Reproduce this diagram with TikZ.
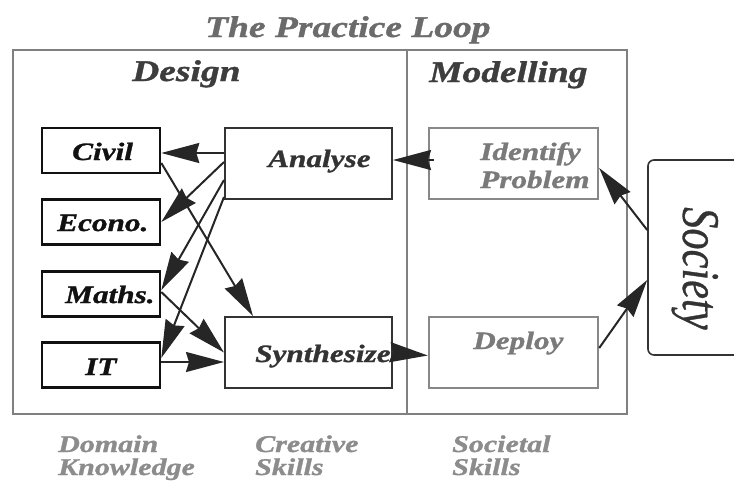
\documentclass[tikz,border=0pt]{standalone}
\usepackage{fontspec}
\setmainfont{Liberation Serif}[FakeStretch=1.25, BoldItalicFeatures={FakeBold=1.2}]
\newfontfamily\socfont{Liberation Serif}[FakeStretch=0.8, ItalicFeatures={FakeBold=0.6}]
\usetikzlibrary{arrows.meta,calc}
\definecolor{titlec}{HTML}{6B6B6B}
\definecolor{headc}{HTML}{3D3D3D}
\definecolor{inkc}{HTML}{111111}
\definecolor{midc}{HTML}{333333}
\definecolor{softc}{HTML}{7A7A7A}
\definecolor{softbox}{HTML}{888888}
\definecolor{footc}{HTML}{8C8C8C}
\definecolor{framec}{HTML}{808080}
\definecolor{arrc}{HTML}{262626}
\begin{document}
\begin{tikzpicture}[x=1pt,y=-1pt,
  big/.style={font=\fontsize{30}{34}\selectfont\bfseries\itshape, inner sep=0, anchor=base west},
  lab/.style={font=\fontsize{25}{28}\selectfont\bfseries\itshape, inner sep=0, anchor=base west},
  foot/.style={font=\fontsize{24}{23}\selectfont\bfseries\itshape, inner sep=0, anchor=base west, text=footc, align=left},
  kbox/.style={draw=inkc, line width=2.6pt, minimum width=118pt, minimum height=45pt, inner sep=0},
  sbox/.style={draw=midc, line width=2pt, minimum width=167pt, minimum height=71pt, inner sep=0},
  mbox/.style={draw=softbox, line width=2.4pt, minimum width=169pt, minimum height=71pt, inner sep=0},
  arr/.style={draw=arrc, line width=2pt, -{Stealth[length=38pt,width=20pt,inset=3pt]}}
]
\useasboundingbox (0,0) rectangle (734,483);
\clip (0,0) rectangle (734,483);
% frame
\draw[framec, line width=2pt] (13,50) rectangle (627,414);
\draw[framec, line width=1.2pt] (407,50) -- (407,414);
% headings
\node[big, text=titlec] (title) at (205,37) {The Practice Loop};
\node[big, text=headc] (design) at (132,81) {Design};
\node[big, text=headc] (modelling) at (429,82) {Modelling};
% knowledge boxes
\node[kbox] (civ) at (101,150.5) {};
\node[kbox] (eco) at (101,222) {};
\node[kbox] (mat) at (101,294) {};
\node[kbox] (it) at (101,365) {};
\node[lab, text=inkc] (civt) at (72,160) {Civil};
\node[lab, text=inkc] (ecot) at (57,231) {Econo.};
\node[lab, text=inkc] (matt) at (65,303) {Maths.};
\node[lab, text=inkc] (itt) at (85,375) {IT};
% skill boxes
\node[sbox] (ana) at (308.5,163.5) {};
\node[sbox] (syn) at (308.5,352.5) {};
\node[lab, text=midc] (anat) at (268,167) {Analyse};
\node[lab, text=midc] (synt) at (255,362) {Synthesize};
% modelling boxes
\node[mbox] (idp) at (513.5,163.5) {};
\node[mbox] (dep) at (513.5,352.5) {};
\node[lab, text=softc, align=left] (idpt) at (480,188) {Identify\\[0pt]Problem};
\node[lab, text=softc] (dept) at (473,349) {Deploy};
% society
\node[draw=midc, line width=1.6pt, rounded corners=6pt, minimum width=112pt, minimum height=195pt] (soc) at (704,257.5) {};
\node[font=\socfont\fontsize{53}{56}\selectfont\itshape, text=midc, inner sep=0, rotate=-90, anchor=base west] (soct) at (683,207) {Society};
% footers
\node[foot] (dk) at (58,475) {Domain\\Knowledge};
\node[foot] (cs) at (255,475) {Creative\\Skills};
\node[foot] (ss) at (452,475) {Societal\\Skills};
% arrows
\draw[arr] ([yshift=10.5pt]ana.west) -- ([yshift=-2.5pt]civ.east);
\draw[arr] ([yshift=1.5pt]ana.west) -- (eco.east);
\draw[arr] ([yshift=-16.5pt]ana.west) -- ([yshift=4pt]mat.east);
\draw[arr] ([yshift=-33.5pt]ana.west) -- ([yshift=7pt]it.east);
\draw[arr] ([yshift=-12.5pt]civ.east) -- ([xshift=-55.5pt]syn.north);
\draw[arr] ([yshift=2pt]mat.east) -- (syn.west);
\draw[arr] ([yshift=3pt]it.east) -- ([yshift=-9.5pt]syn.west);
\draw[arr] (syn.east) -- ([yshift=-3pt]dep.west);
\draw[arr, shorten <=-6pt] ([yshift=3.5pt]idp.west) -- ([yshift=3.5pt]ana.east);
\draw[arr] ([yshift=27.5pt]soc.west) -- ([yshift=-4.5pt]idp.east);
\draw[arr] ([yshift=4.5pt]dep.east) -- ([yshift=-22.5pt]soc.west);
\end{tikzpicture}
\end{document}
